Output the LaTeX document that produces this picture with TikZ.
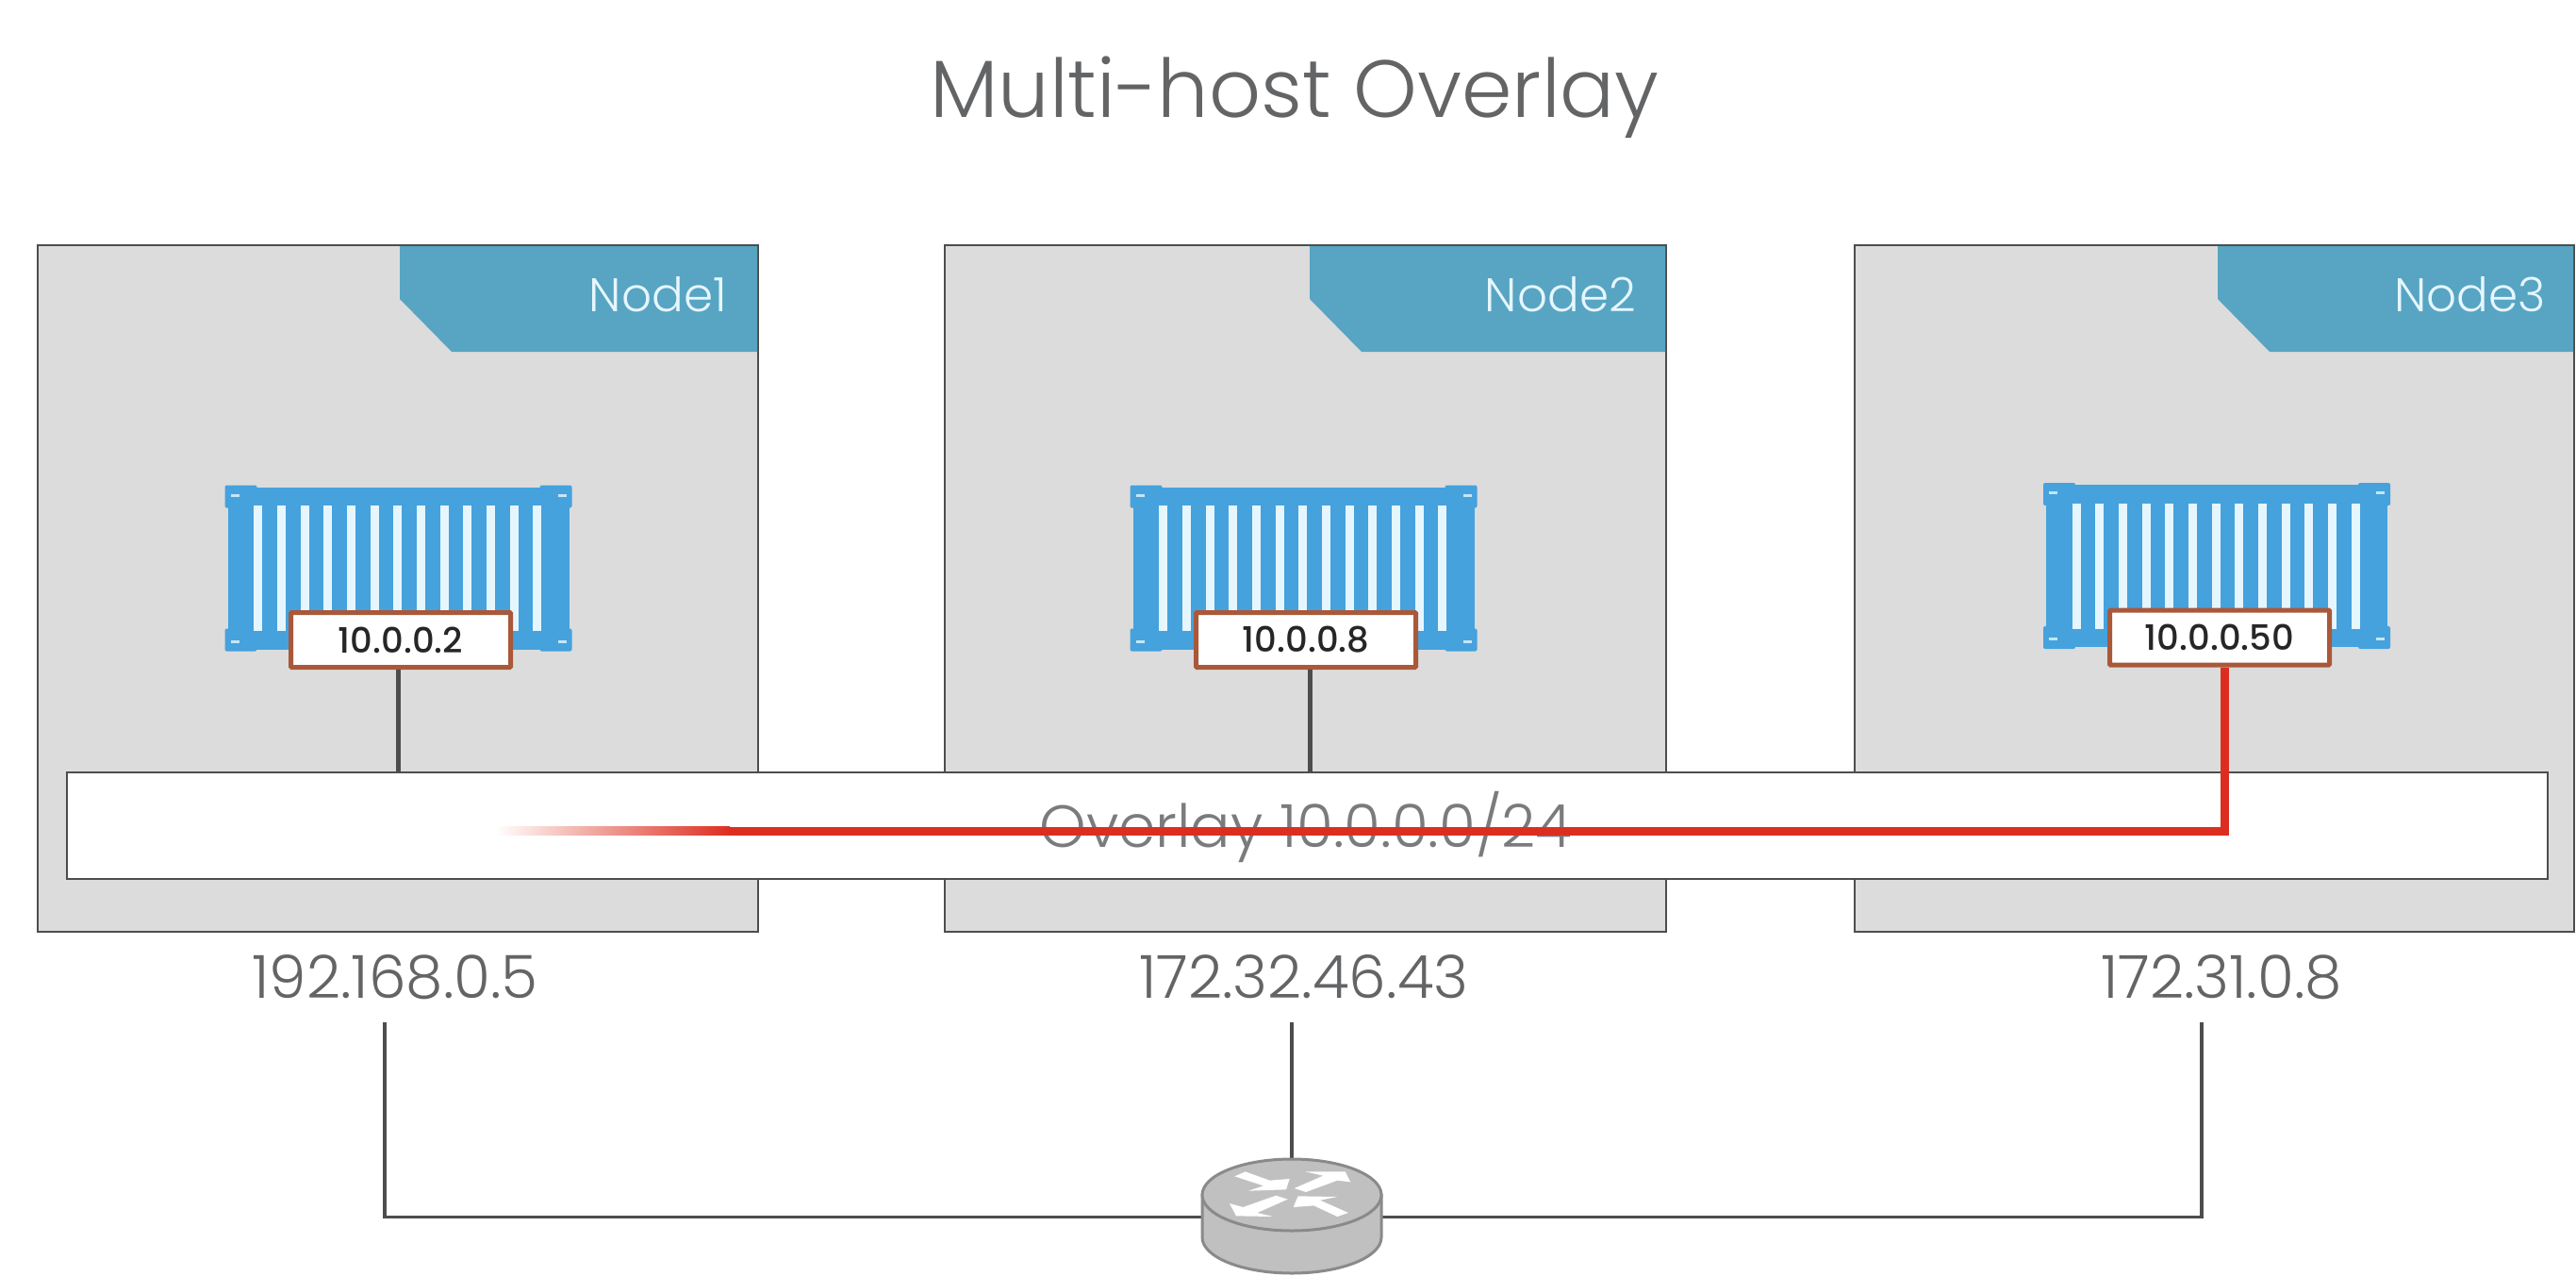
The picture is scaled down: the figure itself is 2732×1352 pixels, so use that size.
\documentclass[tikz,border=0pt]{standalone}
\usepackage{fontspec}
\setmainfont[UprightFont=* Light]{Poppins}
\newfontfamily\addrfont[UprightFont=* Medium]{Poppins}
\usetikzlibrary{calc,positioning}

\definecolor{hostgrey}{HTML}{DCDCDC}
\definecolor{linegrey}{HTML}{4D4D4D}
\definecolor{tabblue}{HTML}{57A5C2}
\definecolor{boxblue}{HTML}{45A2DD}
\definecolor{stripeblue}{HTML}{E6F6FF}
\definecolor{addrbrown}{HTML}{A9583A}
\definecolor{wirered}{HTML}{DC2E20}
\definecolor{textgrey}{HTML}{636466}
\definecolor{routerfill}{HTML}{C0C0C0}
\definecolor{routerline}{HTML}{8A8A8A}

\begin{document}
\begin{tikzpicture}
[
x=1pt, y=-1pt,
hostbox/.style={rectangle, draw=linegrey, line width=1.5pt, fill=hostgrey, minimum height=728pt, anchor=north west, outer sep=0pt},
hosttab/.style={fill=tabblue},
tablabel/.style={anchor=base east, inner sep=0pt, text=stripeblue, font=\fontsize{50}{50}\selectfont},
addr/.style={rectangle, draw=addrbrown, line width=5pt, rounded corners=1pt, fill=white, minimum width=233pt, minimum height=58pt, inner sep=0pt, font=\addrfont\fontsize{37}{37}\selectfont, text=black!85},
iplabel/.style={text=textgrey, inner sep=0pt, font=\fontsize{63}{63}\selectfont},
wire/.style={draw=linegrey, line width=3.5pt},
stub/.style={draw=linegrey, line width=5pt},
redwire/.style={draw=wirered, line width=9pt, line join=miter},
container/.pic={
	\fill[boxblue] (-181,-86) rectangle (181,86);
	\fill[boxblue, rounded corners=2pt] (-184,-88) rectangle (-150,-64);
	\fill[boxblue, rounded corners=2pt] (150,-88) rectangle (184,-64);
	\fill[boxblue, rounded corners=2pt] (-184,64) rectangle (-150,88);
	\fill[boxblue, rounded corners=2pt] (150,64) rectangle (184,88);
	\foreach \i in {0,...,12}
		\fill[stripeblue] ({-153.3+\i*24.67},-66.5) rectangle ({-144.3+\i*24.67},66.5);
	\fill[stripeblue!80!boxblue] (-178,-79) rectangle (-169,-76);
	\fill[stripeblue!80!boxblue] (169,-79) rectangle (178,-76);
	\fill[stripeblue!80!boxblue] (-178,76) rectangle (-169,79);
	\fill[stripeblue!80!boxblue] (169,76) rectangle (178,79);
}
]
	\useasboundingbox (0,0) rectangle (2732,1352);

	\node (title) at (1373,103) [text=textgrey, font=\fontsize{86}{86}\selectfont]{Multi-host Overlay};

	\node (hosta) at (40,260) [hostbox, minimum width=764pt]{};
	\node (hostb) at (1002,260) [hostbox, minimum width=765pt]{};
	\node (hostc) at (1967,260) [hostbox, minimum width=763pt]{};

	\fill[hosttab] (424,261) -- (803,261) -- (803,373) -- (479,373) -- (424,317) -- cycle;
	\fill[hosttab] (1389,261) -- (1766,261) -- (1766,373) -- (1444,373) -- (1389,317) -- cycle;
	\fill[hosttab] (2352,261) -- (2729,261) -- (2729,373) -- (2407,373) -- (2352,317) -- cycle;

	\node (taba) at (771,330) [tablabel]{Node1};
	\node (tabb) at (1735,330) [tablabel]{Node2};
	\node (tabc) at (2700,330) [tablabel]{Node3};

	\pic at (422.5,602.5) {container};
	\pic at (1382.5,602.5) {container};
	\pic at (2351,600) {container};

	\node (addra) at (425,678.5) [addr]{10.0.0.2};
	\node (addrb) at (1385,678.5) [addr]{10.0.0.8};
	\node (addrc) at (2354,676) [addr]{10.0.0.50};

	\node (overlay) at (1386.5,875.5) [rectangle, draw=linegrey, line width=1.5pt, fill=white, minimum width=2631pt, minimum height=113pt, outer sep=0pt]{};
	\node (overlaytxt) at (1385,877) [text=textgrey!85, inner sep=0pt, font=\fontsize{63}{63}\selectfont]{Overlay 10.0.0.0/24};

	\draw[stub] ([xshift=-2.5pt]addra.south) -- ([xshift=-2.5pt]addra.south |- overlay.north);
	\draw[stub] ([xshift=4pt]addrb.south) -- ([xshift=4pt]addrb.south |- overlay.north);

	% red path fades out to the left
	\coordinate (fadeend) at (773,881);
	\shade[left color=white, right color=wirered] (525,876.5) rectangle (774,885.5);
	\draw[redwire] ([xshift=5pt]addrc.south) |- (fadeend);

	\node (ipa) at (419,1036) [iplabel]{192.168.0.5};
	\node (ipb) at (1383,1036) [iplabel]{172.32.46.43};
	\node (ipc) at (2356,1036) [iplabel]{172.31.0.8};

	\coordinate (ipaout) at (408,1084);
	\coordinate (ipbout) at (1370,1084);
	\coordinate (ipcout) at (2335,1084);

	\node (router) at (1370,1290.5) [rectangle, minimum width=190pt, minimum height=123pt, inner sep=0pt, outer sep=0pt]{};

	\draw[wire] (ipaout) |- (router.west);
	\draw[wire] (ipbout) -- (router.north);
	\draw[wire] (ipcout) |- (router.east);

	\draw[draw=routerline, fill=routerfill, line width=3pt] (1275,1267) -- (1275,1312) arc[start angle=180, end angle=0, x radius=95, y radius=38] -- (1465,1267) -- cycle;
	\draw[draw=routerline, fill=routerfill, line width=3pt] (1370,1267) ellipse [x radius=95, y radius=38];

	\begin{scope}[shift={(1200,1200)}, x=0.3333pt, y=-0.3333pt]
	\fill[white] (328,142) -- (362,127) -- (440,155) -- (503,150) -- (492,184) -- (372,188) -- (420,172) -- cycle;
	\fill[white] (518,180) -- (610,140) -- (553,127) -- (680,127) -- (697,160) -- (655,155) -- (555,192) -- cycle;
	\fill[white] (497,215) -- (400,258) -- (450,270) -- (333,268) -- (312,228) -- (355,240) -- (460,203) -- cycle;
	\fill[white] (690,258) -- (655,270) -- (580,235) -- (515,240) -- (530,205) -- (655,207) -- (600,218) -- cycle;
	\end{scope}

\end{tikzpicture}
\end{document}
